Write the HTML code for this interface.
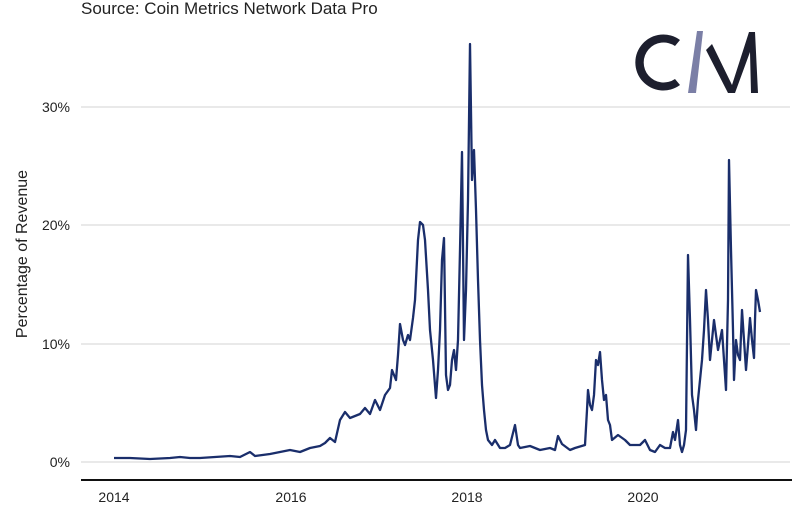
<!DOCTYPE html>
<html><head><style>
body{margin:0;background:#fff;}
svg text{font-family:"Liberation Sans",sans-serif;}
</style></head><body>
<svg width="800" height="511" viewBox="0 0 800 511" xmlns="http://www.w3.org/2000/svg">
<rect width="800" height="511" fill="#fff"/>
<text x="81" y="14" font-size="17" fill="#222">Source: Coin Metrics Network Data Pro</text>
<g stroke="#dcdcdc" stroke-width="1.2">
<line x1="81" y1="107" x2="790" y2="107"/>
<line x1="81" y1="225" x2="790" y2="225"/>
<line x1="81" y1="344" x2="790" y2="344"/>
<line x1="81" y1="462" x2="790" y2="462"/>
</g>
<line x1="81" y1="480" x2="792" y2="480" stroke="#111" stroke-width="2"/>
<g font-size="14" fill="#222" text-anchor="end">
<text x="70" y="112">30%</text>
<text x="70" y="230">20%</text>
<text x="70" y="349">10%</text>
<text x="70" y="467">0%</text>
</g>
<g font-size="14" fill="#222" text-anchor="middle">
<text x="114" y="502">2014</text>
<text x="291" y="502">2016</text>
<text x="467" y="502">2018</text>
<text x="643" y="502">2020</text>
</g>
<text transform="translate(27,254) rotate(-90)" font-size="16" fill="#222" text-anchor="middle">Percentage of Revenue</text>
<polyline fill="none" stroke="#1a2e6b" stroke-width="2.3" stroke-linejoin="round" points="
114,458 130,458 150,459 170,458 180,457 190,458 200,458 215,457 230,456 240,457 250,452 255,456 270,454 290,450 300,452 310,448 320,446 325,443 330,438 335,442 340,420 345,412 350,418 355,416 360,414 365,408 370,414 375,400 380,410 385,395 390,388 392,370 396,380 398,355 400,324 403,340 405,345 408,335 410,340 413,318 415,300 418,240 420,222 423,225 425,240 428,290 430,330 433,360 436,398 438,370 440,330 442,260 444,238 446,375 448,390 450,385 452,360 454,350 456,370 458,340 460,250 462,152 464,340 466,290 468,200 470,44 472,180 474,150 476,210 478,280 480,340 482,385 484,410 486,430 488,440 492,445 495,440 500,448 505,448 510,445 515,425 518,445 520,448 530,446 540,450 550,448 555,450 558,436 562,444 570,450 575,448 585,445 587,410 588,390 590,405 592,410 594,395 596,360 598,365 600,352 602,380 604,400 606,395 608,420 610,425 612,440 618,435 625,440 630,445 640,445 645,440 650,450 655,452 660,445 665,448 670,448 673,432 675,440 678,420 680,445 682,452 684,445 686,430 688,255 690,320 692,395 694,410 696,430 698,400 700,380 702,360 704,330 706,290 708,320 710,360 712,340 714,320 716,335 718,350 720,340 722,330 724,360 726,390 728,300 729,160 731,250 733,330 734,380 736,340 738,355 740,360 742,310 744,340 746,370 748,345 750,318 752,340 754,358 755,320 756,290 758,300 760,312"/>
<g>
<path d="M680,40 A28,28 0 1,0 680,85 L675,79 A20,20 0 1,1 675,46 Z" fill="#1d1f2e"/>
<polygon points="697,31 703,31 696,93 688,93" fill="#7b7fa6"/>
<polygon points="706,50 712,44 732,85 749,32 755,32 758,93 751,93 750,52 735,93 728,93" fill="#1d1f2e"/>
</g>
</svg>
</body></html>
